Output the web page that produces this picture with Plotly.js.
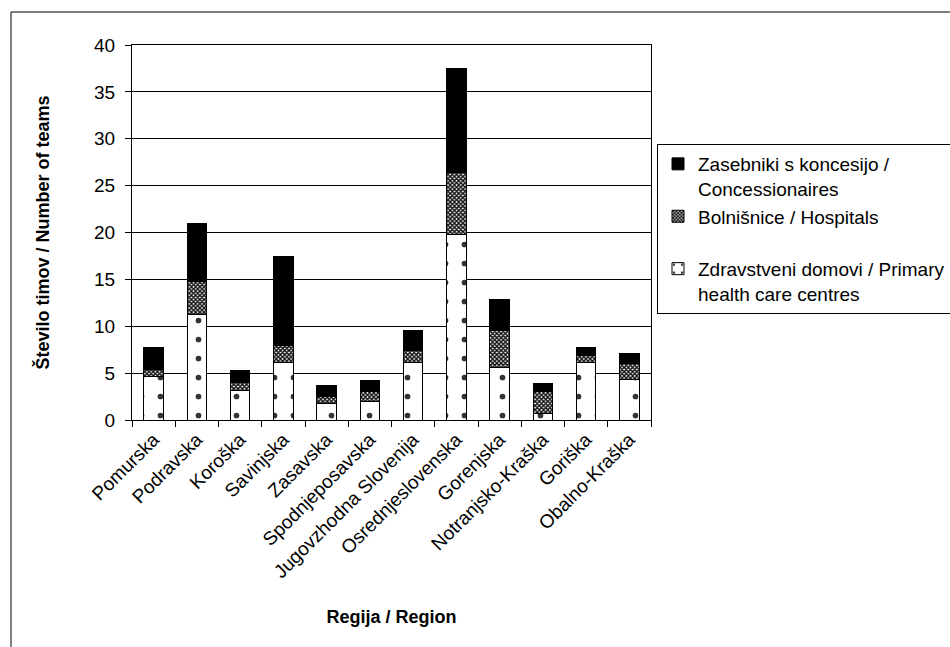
<!DOCTYPE html>
<html>
<head>
<meta charset="utf-8">
<script src="https://cdn.plot.ly/plotly-3.0.1.min.js"></script>
<style>
  html, body { margin: 0; padding: 0; background: #fff; }
  #chart { width: 950px; height: 647px; }
</style>
</head>
<body>
<div id="chart"></div>
<script>
// Teams by region, stacked by provider type
const regions = [
  "Pomurska", "Podravska", "Koroška", "Savinjska", "Zasavska", "Spodnjeposavska",
  "Jugovzhodna Slovenija", "Osrednjeslovenska", "Gorenjska", "Notranjsko-Kraška",
  "Goriška", "Obalno-Kraška"
];
const primaryCare   = [4.6, 11.25, 3.1, 6.1, 1.75, 2.0, 6.15, 19.8, 5.6, 0.65, 6.1, 4.3];
const hospitals     = [0.8, 3.55, 0.85, 1.9, 0.8, 1.0, 1.25, 6.6, 4.0, 2.4, 0.8, 1.75];
const concessionaires = [2.3, 6.2, 1.3, 9.4, 1.15, 1.2, 2.15, 11.1, 3.3, 0.8, 0.85, 1.0];

const seriesNames = [
  "Zdravstveni domovi / Primary<br>health care centres",
  "Bolnišnice / Hospitals<br> ",
  "Zasebniki s koncesijo /<br>Concessionaires"
];
const yTitle = "Število timov / Number of teams";
const xTitle = "Regija / Region";

const FONT = "Liberation Sans, Arial, sans-serif";
const outline = { color: "#000", width: 1 };

// bottom-to-top stacking; legend lists the top segment first
const traces = [
  {
    type: "bar", name: seriesNames[0], x: regions, y: primaryCare, legendrank: 3,
    marker: {
      color: "#fff", line: outline,
      pattern: { shape: ".", fgcolor: "#333", bgcolor: "#fff", size: 19, solidity: 0.07 }
    }
  },
  {
    type: "bar", name: seriesNames[1], x: regions, y: hospitals, legendrank: 2,
    marker: {
      color: "#fff", line: outline,
      pattern: { shape: "x", fgcolor: "#111", bgcolor: "#fff", size: 3, solidity: 0.7 }
    }
  },
  {
    type: "bar", name: seriesNames[2], x: regions, y: concessionaires, legendrank: 1,
    marker: { color: "#000", line: outline }
  }
];

// plot area spans 132..651 px horizontally and 45..420 px vertically
const L = 132, R = 651, T = 45, B = 420, W = 950, H = 647;
const px = v => (v - L) / (R - L);
const py = v => (B - v) / (B - T);

const layout = {
  width: W, height: H,
  margin: { l: L, r: W - R, t: T, b: H - B, pad: 0, autoexpand: false },
  paper_bgcolor: "#fff", plot_bgcolor: "#fff",
  font: { family: FONT, size: 19, color: "#000" },
  barmode: "stack",
  bargap: 0.55,
  showlegend: true,
  legend: {
    x: px(657), y: py(144), xanchor: "left", yanchor: "top",
    traceorder: "normal",
    valign: "top",
    bordercolor: "#000", borderwidth: 1, bgcolor: "#fff",
    font: { family: FONT, size: 19, color: "#000" },
    itemwidth: 30
  },
  xaxis: {
    type: "category",
    tickangle: -45,
    tickson: "boundaries",
    ticks: "outside", ticklen: 6, tickcolor: "#000", tickwidth: 1,
    showline: true, linecolor: "#000", linewidth: 1, mirror: true,
    showgrid: false,
    tickfont: { family: FONT, size: 19 },
    title: { text: xTitle, font: { family: FONT, size: 18, weight: "bold" }, standoff: 29 }
  },
  yaxis: {
    range: [0, 40], dtick: 5,
    ticks: "outside", ticklen: 6, tickcolor: "#000", tickwidth: 1,
    ticklabelstandoff: 6,
    showline: true, linecolor: "#000", linewidth: 1, mirror: true,
    showgrid: true, gridcolor: "#000", gridwidth: 1,
    zeroline: false,
    tickfont: { family: FONT, size: 19 },
    title: { text: yTitle, font: { family: FONT, size: 18, weight: "bold" }, standoff: 39 }
  },
  shapes: [
    {
      type: "rect", xref: "paper", yref: "paper",
      x0: px(11), x1: px(990), y0: py(700), y1: py(12),
      line: { color: "#000", width: 1 }, fillcolor: "rgba(0,0,0,0)", layer: "below"
    }
  ]
};

Plotly.newPlot("chart", traces, layout, { displayModeBar: false, staticPlot: true });
</script>
</body>
</html>
